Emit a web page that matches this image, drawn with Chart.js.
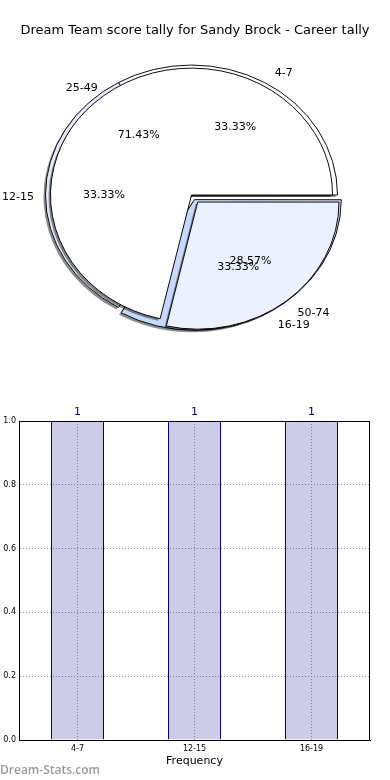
<!DOCTYPE html>
<html>
<head>
<meta charset="utf-8">
<script src="https://cdn.jsdelivr.net/npm/chart.js@4.4.1/dist/chart.umd.min.js"></script>
<style>
    body { margin: 0; background: #fff; }
    #wrap { position: relative; width: 390px; height: 780px; overflow: hidden; }
    #title { position: absolute; left: 0; top: 22px; width: 390px; text-align: center;
        font: 13px "DejaVu Sans"; line-height: 16px; color: #000; }
    .pie { position: absolute; left: 0; top: 0; }
    #bar { position: absolute; left: 0; top: 400px; }
    #mark { position: absolute; left: 0; top: 762px; font: 600 12px "Open Sans";
        line-height: 16px; color: #9a9a9a; }
</style>
</head>
<body>
<div id="wrap">
    <canvas id="pieUnder" class="pie" width="390" height="400"></canvas>
    <canvas id="pieOver" class="pie" width="390" height="400"></canvas>
    <div id="title">Dream Team score tally for Sandy Brock - Career tally</div>
    <canvas id="bar" width="390" height="370"></canvas>
    <div id="mark">Dream-Stats.com</div>
</div>
<script>
// Pie drawn underneath: tally by score band
const underLabels = ['4-7', '12-15', '16-19'];
const underValues = [1, 1, 1];
// Pie drawn on top
const overLabels = ['25-49', '50-74'];
const overValues = [5, 2];
// Bar chart
const barLabels = ['4-7', '12-15', '16-19'];
const barValues = [1, 1, 1];
const yTicks = [0, 0.2, 0.4, 0.6, 0.8, 1.0];

Chart.defaults.font.family = 'DejaVu Sans';
Chart.defaults.animation = false;

// Squash the pie into an ellipse and give it a grey drop shadow
const squash = {
    id: 'squash',
    beforeDatasetsDraw(chart, args, opts) {
        const ctx = chart.ctx;
        const arcs = chart.getDatasetMeta(0).data;
        const cy = arcs[0].y;
        ctx.save();
        ctx.translate(0, cy);
        ctx.scale(1, opts.sy);
        ctx.translate(0, -cy);
        ctx.fillStyle = 'rgba(0,0,0,0.45)';
        arcs.forEach(a => {
            const off = (a.options.offset || 0) / 4;
            const circ = a.endAngle - a.startAngle;
            const r = a.outerRadius + off * (1 - Math.sin(Math.min(Math.PI, circ)));
            const mid = (a.startAngle + a.endAngle) / 2;
            const x = a.x + off * Math.cos(mid) - 2;
            const y = a.y + off * Math.sin(mid) + 2 / opts.sy;
            ctx.beginPath();
            ctx.moveTo(x, y);
            ctx.arc(x, y, r, a.startAngle, a.endAngle);
            ctx.closePath();
            ctx.fill();
        });
    },
    afterDatasetsDraw(chart) {
        chart.ctx.restore();
    }
};

// matplotlib style labels: name at 1.1r, percentage at 0.6r
function drawPieText(chart, ctx) {
    const sy = chart.options.plugins.squash.sy;
    const arcs = chart.getDatasetMeta(0).data;
    const values = chart.data.datasets[0].data;
    const total = values.reduce((s, v) => s + v, 0);
    ctx.save();
    ctx.font = '11px "DejaVu Sans"';
    ctx.fillStyle = '#000';
    ctx.textBaseline = 'middle';
    arcs.forEach((a, i) => {
        const off = (a.options.offset || 0) / 4;
        const mid = (a.startAngle + a.endAngle) / 2;
        const cx = Math.cos(mid), cy = Math.sin(mid);
        const r = a.outerRadius;
        const lx = a.x + (off + 1.1 * r) * cx + 3;
        const ly = a.y + (off + 1.1 * r) * cy * sy + 2;
        ctx.textAlign = cx > 0 ? 'left' : 'right';
        ctx.fillText(chart.data.labels[i], lx, ly);
        const px = a.x + (off + 0.6 * r) * cx;
        const py = a.y + (off + 0.6 * r) * cy * sy;
        ctx.textAlign = 'center';
        ctx.fillText((values[i] / total * 100).toFixed(2) + '%', px, py);
    });
    ctx.restore();
}

function makePie(id, labels, values, colors, offsets, radius, sy, extra) {
    // reversed so the slices run anticlockwise from 3 o'clock
    return new Chart(document.getElementById(id), {
        type: 'pie',
        data: {
            labels: labels.slice().reverse(),
            datasets: [{
                data: values.slice().reverse(),
                backgroundColor: colors.slice().reverse(),
                offset: offsets.slice().reverse(),
                borderColor: '#000',
                borderWidth: 1,
                rotation: 90,
                radius: radius
            }]
        },
        options: {
            responsive: false,
            devicePixelRatio: 1,
            events: [],
            layout: { padding: { left: 0, right: 7, top: 0, bottom: 10 } },
            plugins: {
                legend: { display: false },
                tooltip: { enabled: false },
                squash: { sy: sy }
            }
        },
        plugins: [squash].concat(extra)
    });
}

const pieUnder = makePie('pieUnder', underLabels, underValues,
    ['#ffffff', '#e2ebfe', '#c6d9fc'], [0, 0, 24], 146, 0.89, []);

// all pie text goes on the top canvas so nothing hides it
const pieText = {
    id: 'pieText',
    afterDraw(chart) {
        drawPieText(pieUnder, chart.ctx);
        drawPieText(chart, chart.ctx);
    }
};

makePie('pieOver', overLabels, overValues,
    ['#ffffff', '#ebf1fe'], [0, 40], 141, 0.9, [pieText]);

// Full box round the plot area
const frame = {
    id: 'frame',
    afterDraw(chart) {
        const { ctx, chartArea: a } = chart;
        ctx.save();
        ctx.strokeStyle = '#000';
        ctx.lineWidth = 1;
        ctx.strokeRect(a.left + 0.5, a.top + 0.5, a.right - a.left - 1, a.bottom - a.top);
        ctx.restore();
    }
};

// Count above each bar
const barValueText = {
    id: 'barValueText',
    afterDatasetsDraw(chart) {
        const ctx = chart.ctx;
        ctx.save();
        ctx.font = '11px "DejaVu Sans"';
        ctx.fillStyle = '#000080';
        ctx.textAlign = 'center';
        ctx.textBaseline = 'middle';
        chart.getDatasetMeta(0).data.forEach((bar, i) => {
            ctx.fillText(String(barValues[i]), bar.x, bar.y - 9);
        });
        ctx.restore();
    }
};

new Chart(document.getElementById('bar'), {
    type: 'bar',
    data: {
        labels: barLabels,
        datasets: [{
            data: barValues,
            backgroundColor: 'rgba(0,0,128,0.2)',
            borderColor: '#000080',
            borderWidth: 1,
            barPercentage: 0.453,
            categoryPercentage: 1
        }]
    },
    options: {
        responsive: false,
        devicePixelRatio: 1,
        events: [],
        layout: { padding: { top: 21, right: 20, left: 0, bottom: 0 } },
        plugins: { legend: { display: false }, tooltip: { enabled: false } },
        scales: {
            x: {
                grid: { offset: false, color: '#9a9a9a', drawTicks: false },
                border: { color: '#000', dash: [1, 2] },
                ticks: { font: { size: 8 }, color: '#000', padding: 4 },
                title: { display: true, text: 'Frequency', font: { size: 11 }, color: '#000', padding: { top: 2, bottom: 2 } },
                afterFit: s => { s.height = 30; }
            },
            y: {
                min: 0,
                max: 1,
                grid: { color: '#9a9a9a', drawTicks: false },
                border: { color: '#000', dash: [1, 2] },
                ticks: { font: { size: 8 }, color: '#000', padding: 3, callback: v => v.toFixed(1) },
                afterBuildTicks: s => { s.ticks = yTicks.map(v => ({ value: v })); },
                afterFit: s => { s.width = 19; }
            }
        }
    },
    plugins: [frame, barValueText]
});
</script>
</body>
</html>
